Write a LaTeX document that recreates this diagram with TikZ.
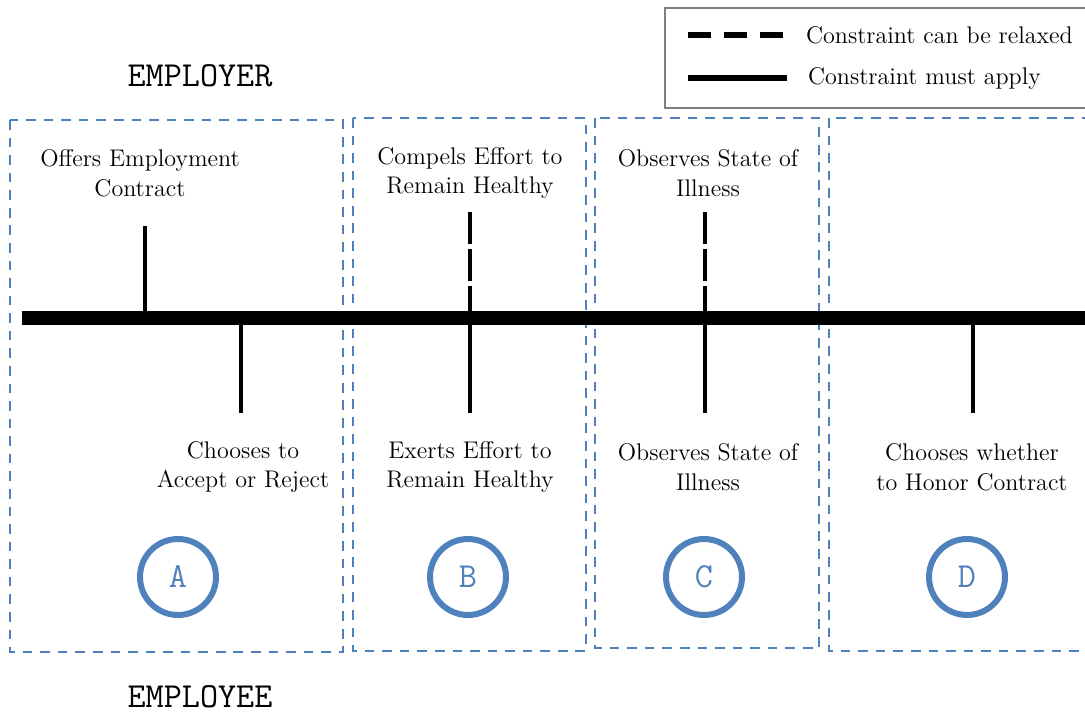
\documentclass[tikz,border=0pt]{standalone}
\usepackage{fontspec}
\definecolor{stageblue}{RGB}{79,129,189}
\definecolor{framegray}{RGB}{128,128,128}

\begin{document}
\begin{tikzpicture}[
  x=0.02cm, y=-0.02cm,
  every node/.style={inner sep=1pt},
  event/.style={align=center, font=\fontsize{13.7}{17}\selectfont},
  party/.style={inner sep=0pt, font=\ttfamily\fontsize{20}{22}\selectfont},
  stage/.style={circle, draw=stageblue, line width=3.4pt, minimum size=1.52cm,
    text=stageblue, font=\ttfamily\fontsize{20}{22}\selectfont},
  phase/.style={draw=stageblue, line width=1.1pt, dash pattern=on 5.5pt off 4.5pt},
  firm/.style={line width=2.8pt},
  loose/.style={line width=2.8pt, dash pattern=on 18pt off 3pt}
]
\useasboundingbox (0,0) rectangle (1085,715);

% legend
\draw[framegray, line width=1.2pt] (665,8) rectangle (1095,108);
\coordinate (lg1a) at (688,35);  \coordinate (lg1b) at (785,35);
\coordinate (lg2a) at (688,78);  \coordinate (lg2b) at (787,78);
\draw[line width=3.2pt, dash pattern=on 13pt off 7.5pt] (lg1a) -- (lg1b);
\draw[line width=3.2pt] (lg2a) -- (lg2b);
\node[event, anchor=west] (relaxed) at (804,35) {Constraint can be relaxed};
\node[event, anchor=west] (must) at (806,78) {Constraint must apply};

% the two parties
\node[party] (employer) at (200,76) {EMPLOYER};
\node[party] (employee) at (200,697) {EMPLOYEE};

% stage boxes
\draw[phase] (10,120) rectangle (343,652);
\draw[phase] (353,118) rectangle (586,651);
\draw[phase] (595,118) rectangle (819,648);
\draw[phase] (829,118) rectangle (1095,651);

% timeline
\coordinate (tstart) at (22,318);
\coordinate (tend) at (1090,318);
\draw[line width=8pt] (tstart) -- (tend);

% employer moves
\coordinate (offer) at (145,318);   \coordinate (offertop) at (145,226);
\coordinate (compel) at (470,318);  \coordinate (compeltop) at (470,212);
\coordinate (watch) at (705,318);   \coordinate (watchtop) at (705,212);
\draw[firm] (offertop) -- (offer);
\draw[loose] (compeltop) -- (compel);
\draw[loose] (watchtop) -- (watch);

% employee moves
\coordinate (accept) at (241,318);  \coordinate (acceptbot) at (241,413);
\coordinate (effort) at (470,318);  \coordinate (effortbot) at (470,413);
\coordinate (ill) at (705,318);     \coordinate (illbot) at (705,413);
\coordinate (honor) at (973,318);   \coordinate (honorbot) at (973,413);
\draw[firm] (accept) -- (acceptbot);
\draw[firm] (effort) -- (effortbot);
\draw[firm] (ill) -- (illbot);
\draw[firm] (honor) -- (honorbot);

% labels
\node[event] (offerlbl) at (140,173) {Offers Employment\\Contract};
\node[event] (compellbl) at (470,173) {Compels Effort to\\Remain Healthy};
\node[event] (watchlbl) at (708,173) {Observes State of\\Illness};
\node[event] (acceptlbl) at (243,467) {Chooses to\\Accept or Reject};
\node[event] (effortlbl) at (470,467) {Exerts Effort to\\Remain Healthy};
\node[event] (illlbl) at (708,467) {Observes State of\\Illness};
\node[event] (honorlbl) at (972,467) {Chooses whether\\to Honor Contract};

% stages
\node[stage] (A) at (178,577) {A};
\node[stage] (B) at (468,577) {B};
\node[stage] (C) at (704,577) {C};
\node[stage] (D) at (967,577) {D};
\end{tikzpicture}
\end{document}
